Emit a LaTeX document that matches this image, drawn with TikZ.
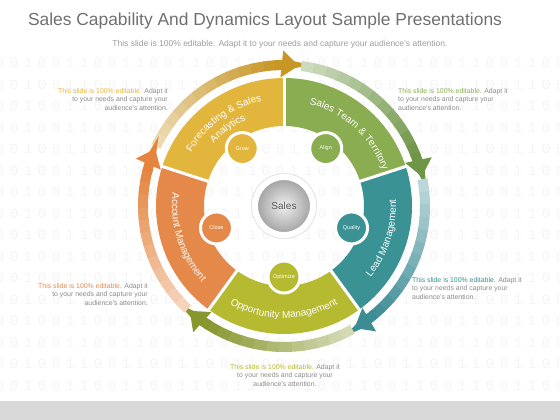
\documentclass[tikz,border=0pt]{standalone}
\usepackage{fontspec}
\setmainfont{Liberation Sans}
\newfontfamily\bitfont[LetterSpace=40]{Liberation Mono}
\usepackage{tikz}
\usetikzlibrary{arrows.meta, decorations.text}

\definecolor{goldC}{RGB}{226,181,60}
\definecolor{greenC}{RGB}{137,173,80}
\definecolor{tealC}{RGB}{58,146,148}
\definecolor{oliveC}{RGB}{182,186,48}
\definecolor{orangeC}{RGB}{229,137,74}
\definecolor{goldA}{RGB}{200,150,36}
\definecolor{greenA}{RGB}{110,150,70}
\definecolor{tealA}{RGB}{60,140,148}
\definecolor{oliveA}{RGB}{135,150,45}
\definecolor{orangeA}{RGB}{228,132,62}
\definecolor{titleC}{RGB}{112,112,112}

\tikzstyle{ring} = [line width=10pt, -{Triangle[width=26pt, length=17pt]}]
\tikzstyle{dot} = [circle, draw=white, line width=3pt, minimum size=32pt,
  inner sep=0pt, text=white, font=\fontsize{5.5}{6}\selectfont]
\tikzstyle{hub} = [circle, draw=white, line width=6pt, minimum size=58pt,
  inner color=black!6, outer color=black!38, text=black!65,
  font=\fontsize{10}{12}\selectfont]
\tikzstyle{note} = [text=black!45, font=\fontsize{6.9}{8.7}\selectfont, inner sep=0pt]
\tikzstyle{bits} = [text=black!4, font=\bitfont\fontsize{14}{14}\selectfont]
\tikzstyle{seg} = [decorate, decoration={text along path, text align=center, text color=white}]

\newcommand\seglabel{\fontsize{10}{12}\selectfont}
% arc of the outer ring, light at its tail, dark at its head
\newcommand\ringarc[3]{%
  \foreach \i in {0,...,11} {
    \pgfmathsetmacro\pa{#1+(#2+9-#1)*\i/12}
    \pgfmathsetmacro\pb{#1+(#2+9-#1)*(\i+1)/12-0.4}
    \pgfmathtruncatemacro\pc{35+62*\i/11}
    \draw[line width=10pt, draw=#3!\pc!white] (\pa:141) arc (\pa:\pb:141);
  }
  \draw[ring, draw=#3] (#2+10:141) arc (#2+10:#2:141);
}

\begin{document}
\begin{tikzpicture}[x=1pt, y=1pt]
  \useasboundingbox (0,0) rectangle (560,420);
  \fill[white] (0,0) rectangle (560,420);
  \fill[black!15] (0,0) rectangle (560,19);
  % binary backdrop
  \begin{scope}
    \clip (0,19) rectangle (560,362);
    \foreach \r in {0,...,15}
      \node[bits] at (280, 357-\r*21.5) {110010011001100110011001100110011001100110011};
  \end{scope}

  \node[text=titleC, font=\fontsize{17.4}{20}\selectfont] (title) at (265,399)
    {Sales Capability And Dynamics Layout Sample Presentations};
  \node[note, text=black!38, font=\fontsize{8.5}{10}\selectfont] (sub) at (280,376)
    {This slide is 100\% editable. Adapt it to your needs and capture your audience's attention.};

  \begin{scope}[shift={(284,214)}]
    % wheel segments
    \fill[goldC] (90:128) arc (90:162:128) -- (162:80) arc (162:90:80) -- cycle;
    \fill[greenC] (18:128) arc (18:90:128) -- (90:80) arc (90:18:80) -- cycle;
    \fill[tealC] (-54:128) arc (-54:18:128) -- (18:80) arc (18:-54:80) -- cycle;
    \fill[oliveC] (-126:128) arc (-126:-54:128) -- (-54:80) arc (-54:-126:80) -- cycle;
    \fill[orangeC] (162:128) arc (162:234:128) -- (234:80) arc (234:162:80) -- cycle;
    \foreach \a in {18,90,162,234,306}
      \draw[white, line width=3pt] (\a:76) -- (\a:131);

    % outer arrows
    \ringarc{155}{84}{goldA}
    \ringarc{83}{12}{greenA}
    \ringarc{11}{-60}{tealA}
    \ringarc{-61}{-132}{oliveA}
    \ringarc{-133}{-204}{orangeA}

    % labels on the segments
    \path[seg, decoration={text={|\seglabel|Forecasting {\&} Sales}}] (170:107) arc (170:82:107);
    \path[seg, decoration={text={|\seglabel|Analytics}}] (160:94) arc (160:92:94);
    \path[seg, decoration={text={|\seglabel|Sales Team {\&} Territory}}] (90:105) arc (90:6:105);
    \path[seg, decoration={text={|\seglabel|Lead Management}}] (-62:112) arc (-62:26:112);
    \path[seg, decoration={text={|\seglabel|Opportunity Management}}] (-134:112) arc (-134:-46:112);
    \path[seg, decoration={text={|\seglabel|Account Management}}] (154:112) arc (154:242:112);

    \fill[black!10] (0,0) circle (33);
    \node[hub] (sales) at (0,0) {Sales};
    \node[dot, fill=goldC] (grow) at (126:71) {Grow};
    \node[dot, fill=greenC] (align) at (54:71) {Align};
    \node[dot, fill=tealC] (quality) at (-18:71) {Quality};
    \node[dot, fill=oliveC] (optimize) at (-90:71) {Optimize};
    \node[dot, fill=orangeC] (close) at (198:71) {Close};
  \end{scope}

  % side notes
  \node[note, anchor=north east, align=right] (noteTL) at (168,332)
    {\textcolor{goldC}{This slide is 100\% editable.} Adapt it\\to your needs and capture your\\audience's attention.};
  \node[note, anchor=north west, align=left] (noteTR) at (398,332)
    {\textcolor{greenC}{This slide is 100\% editable.} Adapt it\\to your needs and capture your\\audience's attention.};
  \node[note, anchor=north east, align=right] (noteBL) at (148,137)
    {\textcolor{orangeC}{This slide is 100\% editable.} Adapt it\\to your needs and capture your\\audience's attention.};
  \node[note, anchor=north west, align=left] (noteBR) at (412,143)
    {\textcolor{tealC}{This slide is 100\% editable.} Adapt it\\to your needs and capture your\\audience's attention.};
  \node[note, anchor=north, align=center] (noteB) at (285,56)
    {\textcolor{oliveC}{This slide is 100\% editable.} Adapt it\\to your needs and capture your\\audience's attention.};
\end{tikzpicture}
\end{document}
